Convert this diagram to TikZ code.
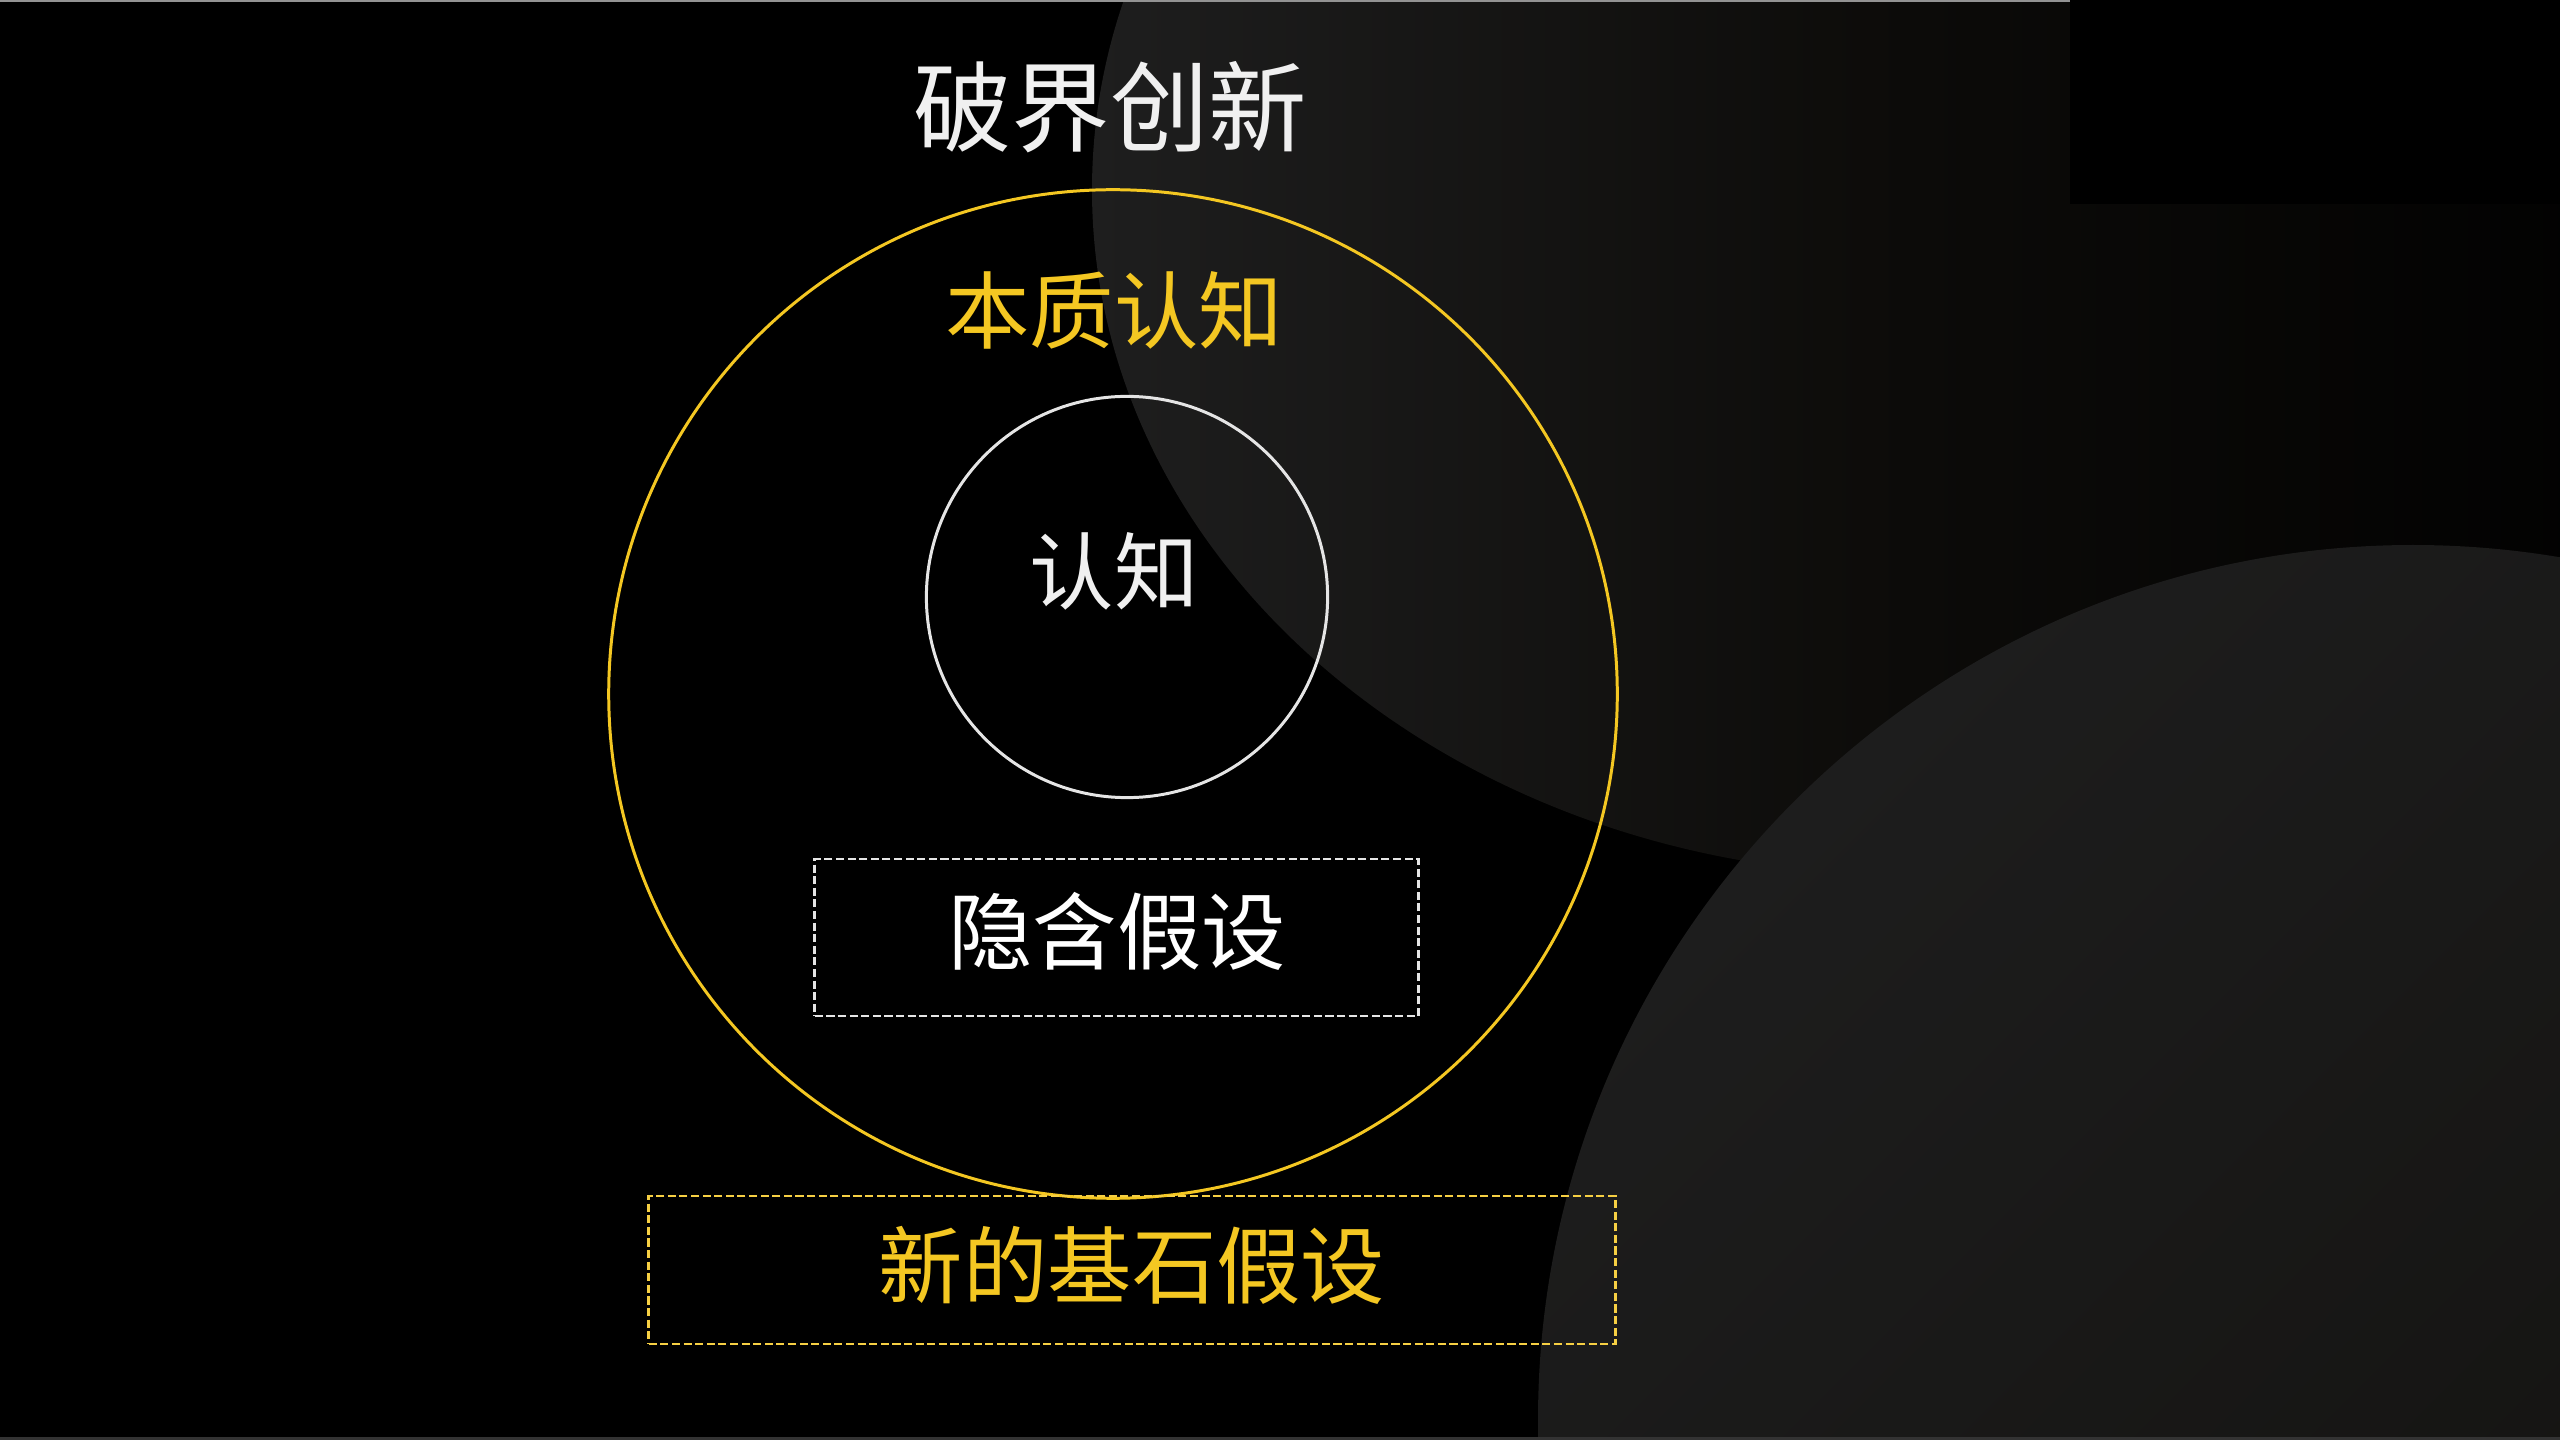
\documentclass[tikz,border=0pt]{standalone}
\usepackage{fontspec}
\newfontfamily\cjk{Noto Sans CJK SC}
\usetikzlibrary{shapes.geometric}
\definecolor{gold}{RGB}{244,199,34}
\definecolor{txtwhite}{RGB}{240,240,240}
\definecolor{bgA}{RGB}{30,30,30}
\definecolor{bgB}{RGB}{12,11,9}
\definecolor{bgC}{RGB}{29,29,29}
\definecolor{bgD}{RGB}{16,15,12}
\tikzset{
  txt/.style={font=\cjk, inner sep=0pt, anchor=center},
  ring/.style={circle, draw, line width=0.85pt, inner sep=0pt},
  dbox/.style={rectangle, draw, line width=0.8pt, dash pattern=on 2.3pt off 1pt, inner sep=0pt},
}
\begin{document}
\begin{tikzpicture}[x=0.01cm, y=-0.01cm]
\useasboundingbox (0,0) rectangle (2560,1440);
% background
\fill[black] (0,0) rectangle (2560,1440);
\shade[left color=bgA, right color=black, middle color=bgB] (1910,190) ellipse [x radius=818, y radius=685];
\shade[shading=axis, top color=bgC, bottom color=bgD, shading angle=45] (2413,1420) circle [radius=875];
\fill[black] (2070,0) rectangle (2560,204);
\fill[gray!85] (0,0) rectangle (2070,2);
\fill[gray!40!black] (0,1437) rectangle (2560,1440);
% title
\node[txt, text=txtwhite, font=\cjk\fontsize{28}{32}\selectfont] (title) at (1110,107) {破界创新};
% outer ring
\node[ring, draw=gold, minimum size=10.08cm] (outer) at (1113,694) {};
\node[txt, text=gold, font=\cjk\fontsize{24}{28}\selectfont] (essence) at (1114,310) {本质认知};
% inner ring
\node[ring, draw=white!90!black, minimum size=4.01cm] (inner) at (1127,597) {};
\node[txt, text=txtwhite, font=\cjk\fontsize{24}{28}\selectfont] (cog) at (1114,571) {认知};
% hidden assumption box
\node[dbox, draw=white!90!black, minimum width=6.03cm, minimum height=1.57cm] (hiddenbox) at (1116.5,937.5) {};
\node[txt, text=white, font=\cjk\fontsize{24}{28}\selectfont] (hidden) at (1117,931) {隐含假设};
% new foundation box
\node[dbox, draw=gold!85!white, minimum width=9.66cm, minimum height=1.48cm] (newbox) at (1132,1270) {};
\node[txt, text=gold, font=\cjk\fontsize{24}{28}\selectfont] (newbase) at (1132,1265) {新的基石假设};
\end{tikzpicture}
\end{document}
